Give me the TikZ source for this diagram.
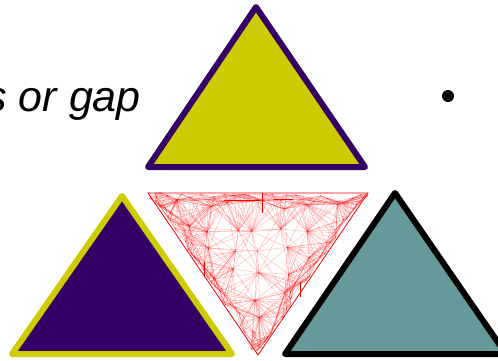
\documentclass[tikz,border=0pt]{standalone}
\usepackage{fontspec}
\setmainfont{Liberation Sans}
\usepackage{xcolor}
\usepackage{tikz}
\usetikzlibrary{calc}
\definecolor{olivey}{RGB}{204,204,0}
\definecolor{deeppurple}{RGB}{51,0,102}
\definecolor{tealgray}{RGB}{102,153,153}
\newcommand\ptx[1]{\csname ptx#1\endcsname}
\newcommand\pty[1]{\csname pty#1\endcsname}
\newcount\meshcount

\begin{document}
\begin{tikzpicture}[
    x=1pt, y=-1pt,
    tri/.style={line width=6pt, line join=round},
    meshline/.style={red, opacity=0.3, line width=0.4pt},
    edgeline/.style={red, line width=0.9pt},
    dot/.style={circle, fill=black, inner sep=0pt, minimum size=12pt}
]
\useasboundingbox (0,0) rectangle (498,360);

% text and bullet
\node[font=\itshape\fontsize{43}{46}\selectfont, anchor=base east, inner sep=0pt] (gaptxt) at (141,111) {s or gap};
\node[dot] (bul) at (448,96) {};

% the three filled triangles
\draw[tri, draw=deeppurple, fill=olivey] (256,7) -- (365,167) -- (148,167) -- cycle;
\draw[tri, draw=olivey, fill=deeppurple] (122,196) -- (232,354) -- (12,354) -- cycle;
\draw[tri, draw=black, fill=tealgray] (395,193) -- (506,354) -- (285,354) -- cycle;

% mesh in the inverted triangle
\coordinate (ta) at (148,193);
\coordinate (tb) at (368,193);
\coordinate (tc) at (258,355);
\pgfmathsetseed{5}
\global\meshcount=0
% points inside, on a shaken grid
\foreach \gy in {0,...,6}{
  \foreach \gx in {0,...,8}{
    \pgfmathsetmacro{\py}{206+\gy*23+14*(rnd-0.5)}
    \pgfmathsetmacro{\px}{158+\gx*25+14*(rnd-0.5)}
    \pgfmathsetmacro{\lo}{148+0.679*(\py-193)+8}
    \pgfmathsetmacro{\hi}{368-0.679*(\py-193)-8}
    \ifdim\px pt>\lo pt\ifdim\px pt<\hi pt
      \global\advance\meshcount by 1
      \expandafter\xdef\csname ptx\the\meshcount\endcsname{\px}
      \expandafter\xdef\csname pty\the\meshcount\endcsname{\py}
      \coordinate (m\the\meshcount) at (\px,\py);
    \fi\fi
  }
}
\xdef\ninner{\the\meshcount}
% points close to the edges
\foreach \k in {0,1,2}{
  \foreach \s in {0,...,39}{
    \pgfmathsetmacro{\t}{(\s+rnd)/40}
    \pgfmathsetmacro{\d}{1+13*rnd*rnd}
    \pgfmathsetmacro{\px}{(\k==0) ? 148+220*\t : ((\k==1) ? 368-110*\t-0.827*\d : 258-110*\t+0.827*\d)}
    \pgfmathsetmacro{\py}{(\k==0) ? 193+\d : ((\k==1) ? 193+162*\t-0.561*\d : 355-162*\t-0.561*\d)}
    \global\advance\meshcount by 1
    \expandafter\xdef\csname ptx\the\meshcount\endcsname{\px}
    \expandafter\xdef\csname pty\the\meshcount\endcsname{\py}
    \coordinate (m\the\meshcount) at (\px,\py);
  }
}
\xdef\nall{\the\meshcount}
% join points that lie close together
\foreach \i in {1,...,\nall}{
  \foreach \j in {\i,...,\nall}{
    \pgfmathsetmacro{\dd}{veclen(\ptx\i-\ptx\j,\pty\i-\pty\j)}
    \pgfmathsetmacro{\lim}{(\i>\ninner) ? 20 : ((\j>\ninner) ? 44 : 50)}
    \ifdim\dd pt<\lim pt
      \draw[meshline] (m\i) -- (m\j);
    \fi
  }
}
\draw[red, line width=0.8pt] (ta) -- (tb) -- (tc) -- cycle;
\draw[edgeline] (224,200) -- (260,200);
\draw[edgeline] (274,199) -- (293,199);
\draw[edgeline] (262,193) -- (262,213);
\draw[edgeline] (204,262) -- (204,277);
\draw[edgeline] (300,283) -- (300,297);
\end{tikzpicture}
\end{document}
